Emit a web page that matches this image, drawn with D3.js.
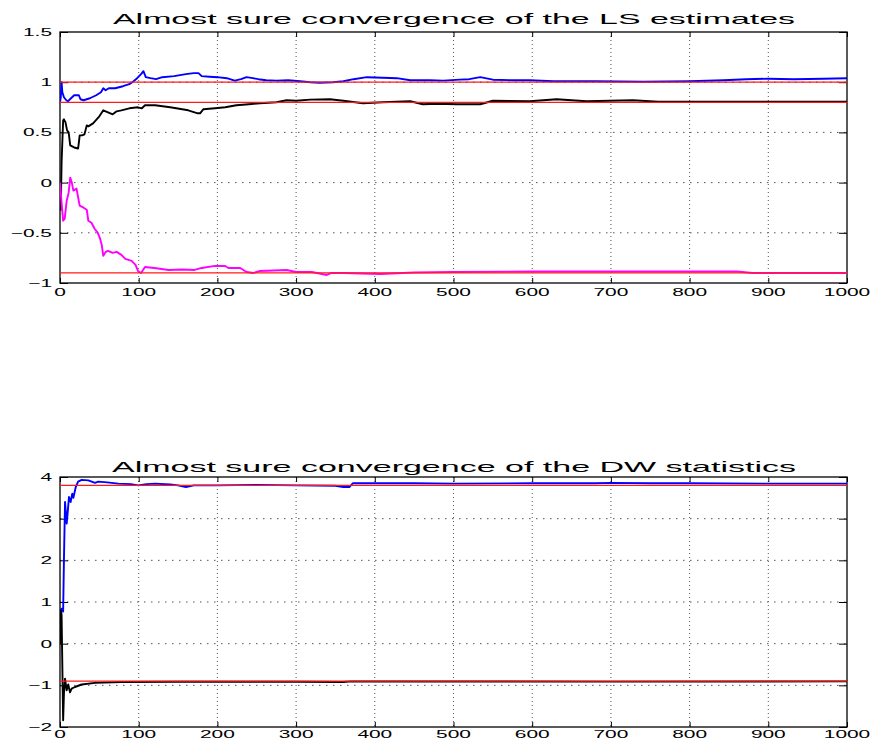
<!DOCTYPE html>
<html><head><meta charset="utf-8">
<script src="https://cdn.jsdelivr.net/npm/d3@7"></script>
<style>body{margin:0;background:#fff}svg{display:block}</style>
</head><body>
<script>
// ---------- data ----------
const xTicks = [0,100,200,300,400,500,600,700,800,900,1000];
const topYTicks = [-1,-0.5,0,0.5,1,1.5];
const botYTicks = [-2,-1,0,1,2,3,4];
const topTitle = "Almost sure convergence of the LS estimates";
const botTitle = "Almost sure convergence of the DW statistics";
const topRefLines = [1.0, 0.8, -0.9];
const botRefLines = [3.8, -0.9];

const lsBlueT = [0,1,2,3,5,8,10,14,18,24,26,30,38,46,52,55,58,62,70,80,88,92,98,103,106,109,115,122,130,145,160,170,176,180,190,200,212,222,230,237,245,252,262,275,290,305,318,330,347,360,373,390,410,428,445,470,487,508,520,534,550,575,597,627,680,741,800,843,872,900,932,970,1000];
const lsBlueV = [0.80,0.85,1.00,0.90,0.85,0.82,0.81,0.84,0.87,0.87,0.83,0.82,0.84,0.87,0.90,0.94,0.92,0.94,0.94,0.96,0.98,1.00,1.04,1.08,1.11,1.05,1.04,1.03,1.05,1.06,1.08,1.09,1.09,1.06,1.055,1.05,1.04,1.016,1.03,1.05,1.04,1.03,1.02,1.016,1.02,1.01,1.0,0.995,1.0,1.01,1.03,1.05,1.045,1.04,1.02,1.02,1.016,1.026,1.03,1.05,1.025,1.02,1.02,1.01,1.01,1.005,1.01,1.02,1.03,1.035,1.03,1.035,1.04];

const lsBlackT = [0,1,2,4,5,7,9,11,13,18,23,24,25,28,31,34,36,42,50,55,61,67,72,78,88,99,104,108,121,140,163,175,178,182,197,210,224,240,254,275,288,300,318,343,360,385,410,445,461,480,504,534,550,597,631,669,728,760,1000];
const lsBlackV = [0.0,-0.27,0.2,0.62,0.63,0.6,0.52,0.5,0.37,0.35,0.34,0.40,0.47,0.47,0.48,0.57,0.56,0.59,0.66,0.72,0.70,0.68,0.71,0.72,0.74,0.75,0.74,0.77,0.77,0.75,0.72,0.69,0.69,0.73,0.74,0.75,0.77,0.78,0.79,0.80,0.82,0.815,0.826,0.83,0.815,0.79,0.80,0.81,0.78,0.785,0.78,0.78,0.815,0.81,0.83,0.81,0.82,0.805,0.805];

const lsMagT = [0,2,4,6,8.5,11,13,15,17,21,25,30,34,36,40,44,48,51,53,55,58,61,67,72,78,83,91,96,99,103,108,120,138,155,171,180,197,210,214,229,237,246,254,288,300,320,339,345,360,407,450,500,600,700,860,880,1000];
const lsMagV = [0.0,-0.2,-0.38,-0.36,-0.18,-0.10,0.05,0.0,-0.08,-0.06,-0.23,-0.25,-0.27,-0.38,-0.40,-0.46,-0.50,-0.56,-0.62,-0.73,-0.69,-0.68,-0.70,-0.69,-0.72,-0.76,-0.78,-0.82,-0.88,-0.90,-0.84,-0.85,-0.87,-0.865,-0.87,-0.85,-0.83,-0.83,-0.85,-0.85,-0.89,-0.90,-0.88,-0.87,-0.89,-0.89,-0.92,-0.90,-0.90,-0.91,-0.895,-0.89,-0.885,-0.885,-0.885,-0.9,-0.9];

const dwBlueT = [0,1,2,4,5,6.4,8.5,10,11.4,13.5,15.6,17,20,23,27.5,36,44.5,48.7,60,74,90,99.5,110,121,140,150,160,170,200,250,300,350,360,368,372,400,450,500,600,680,700,750,800,900,1000];
const dwBlueV = [0.04,0.8,0.84,0.77,2.0,3.4,2.88,3.2,3.52,3.4,3.6,3.5,3.76,3.89,3.93,3.92,3.86,3.89,3.87,3.84,3.83,3.80,3.83,3.84,3.82,3.80,3.76,3.80,3.80,3.81,3.80,3.79,3.76,3.76,3.85,3.85,3.85,3.84,3.85,3.85,3.86,3.85,3.85,3.84,3.84];

const dwBlackT = [0,1,2,4,5,6.4,8.5,10.5,12.7,14.8,19,27.5,44.5,78,150,300,360,370,700,1000];
const dwBlackV = [0.0,0.8,0.7,-1.84,-1.2,-0.84,-1.12,-0.98,-1.17,-1.08,-1.04,-0.98,-0.94,-0.92,-0.915,-0.915,-0.92,-0.905,-0.91,-0.905];

// ---------- drawing ----------
const W = 870, H = 742;
const svg = d3.select("body").append("svg").attr("width", W).attr("height", H);
const FONT = "'Liberation Sans', Arial, Helvetica, sans-serif";
const SX = 1.9; // horizontal text stretch seen in the picture

function panel(cfg) {
  const x = d3.scaleLinear().domain([0, 1000]).range([cfg.left, cfg.right]);
  const y = d3.scaleLinear().domain(cfg.yDomain).range([cfg.bottom, cfg.top]);
  const g = svg.append("g");

  // grid
  g.append("g").selectAll("line").data(xTicks.slice(1, -1)).join("line")
    .attr("x1", d => x(d)).attr("x2", d => x(d))
    .attr("y1", cfg.top).attr("y2", cfg.bottom)
    .attr("stroke", "#555").attr("stroke-width", 1).attr("stroke-dasharray", "1,3");
  g.append("g").selectAll("line").data(cfg.yTicks.slice(1, -1)).join("line")
    .attr("x1", cfg.left).attr("x2", cfg.right)
    .attr("y1", d => y(d)).attr("y2", d => y(d))
    .attr("stroke", "#555").attr("stroke-width", 1).attr("stroke-dasharray", "1.5,5.5");

  // axes (inward ticks)
  const ax = g.append("g").attr("transform", `translate(0,${cfg.bottom})`)
    .call(d3.axisBottom(x).tickValues(xTicks).tickSize(-5).tickFormat(""));
  const axT = g.append("g").attr("transform", `translate(0,${cfg.top})`)
    .call(d3.axisTop(x).tickValues(xTicks).tickSize(-5).tickFormat(""));
  const ay = g.append("g").attr("transform", `translate(${cfg.left},0)`)
    .call(d3.axisLeft(y).tickValues(cfg.yTicks).tickSize(-8).tickFormat(""));
  const ayR = g.append("g").attr("transform", `translate(${cfg.right},0)`)
    .call(d3.axisRight(y).tickValues(cfg.yTicks).tickSize(-8).tickFormat(""));
  [ax, axT, ay, ayR].forEach(a => {
    a.select(".domain").remove();
    a.selectAll("line").attr("stroke", "#000").attr("stroke-width", 1);
  });
  // box
  g.append("rect").attr("x", cfg.left).attr("y", cfg.top)
    .attr("width", cfg.right - cfg.left).attr("height", cfg.bottom - cfg.top)
    .attr("fill", "none").attr("stroke", "#000").attr("stroke-width", 1.3);

  // tick labels (stretched)
  g.append("g").selectAll("text").data(xTicks).join("text")
    .attr("transform", d => `translate(${x(d)},${cfg.bottom + cfg.xLabDy}) scale(${SX},1)`)
    .attr("text-anchor", "middle").attr("font-family", FONT).attr("font-size", 11)
    .text(d => d3.format("d")(d));
  g.append("g").selectAll("text").data(cfg.yTicks).join("text")
    .attr("transform", d => `translate(${cfg.left - 8},${y(d) + 4}) scale(${SX},1)`)
    .attr("text-anchor", "end").attr("font-family", FONT).attr("font-size", 11)
    .text(d => (d < 0 ? "\u2212" : "") + Math.abs(d));

  // title
  g.append("text").attr("x", cfg.titleX).attr("y", cfg.titleY)
    .attr("font-family", FONT).attr("font-size", 14.5)
    .attr("textLength", cfg.titleW).attr("lengthAdjust", "spacingAndGlyphs")
    .text(cfg.title);

  // series
  const clip = "clip" + cfg.id;
  svg.append("clipPath").attr("id", clip).append("rect")
    .attr("x", cfg.left).attr("y", cfg.top).attr("width", cfg.right - cfg.left).attr("height", cfg.bottom - cfg.top);
  const line = d3.line().x(d => x(d[0])).y(d => y(d[1]));
  const sg = g.append("g").attr("clip-path", `url(#${clip})`);
  cfg.series.forEach(s => {
    sg.append("path").datum(d3.zip(s.t, s.v)).attr("d", line)
      .attr("fill", "none").attr("stroke", s.color).attr("stroke-width", 1.9)
      .attr("stroke-linejoin", "round");
  });
  sg.selectAll(".ref").data(cfg.refs).join("line")
    .attr("x1", x(0)).attr("x2", x(1000))
    .attr("y1", d => y(d)).attr("y2", d => y(d))
    .attr("stroke", "#ff1a1a").attr("stroke-width", 1.3);
}

panel({
  id: "top", left: 60, right: 847, top: 32, bottom: 283, yDomain: [-1, 1.5], yTicks: topYTicks, xLabDy: 13,
  title: topTitle, titleX: 113, titleY: 24, titleW: 682, refs: topRefLines,
  series: [
    {t: lsBlueT, v: lsBlueV, color: "#0000ff"},
    {t: lsBlackT, v: lsBlackV, color: "#000000"},
    {t: lsMagT, v: lsMagV, color: "#ff00ff"}
  ]
});
panel({
  id: "bot", left: 60, right: 847, top: 477, bottom: 727, yDomain: [-2, 4], yTicks: botYTicks, xLabDy: 11,
  title: botTitle, titleX: 112, titleY: 472, titleW: 684, refs: botRefLines,
  series: [
    {t: dwBlueT, v: dwBlueV, color: "#0000ff"},
    {t: dwBlackT, v: dwBlackV, color: "#000000"}
  ]
});
</script>
</body></html>
